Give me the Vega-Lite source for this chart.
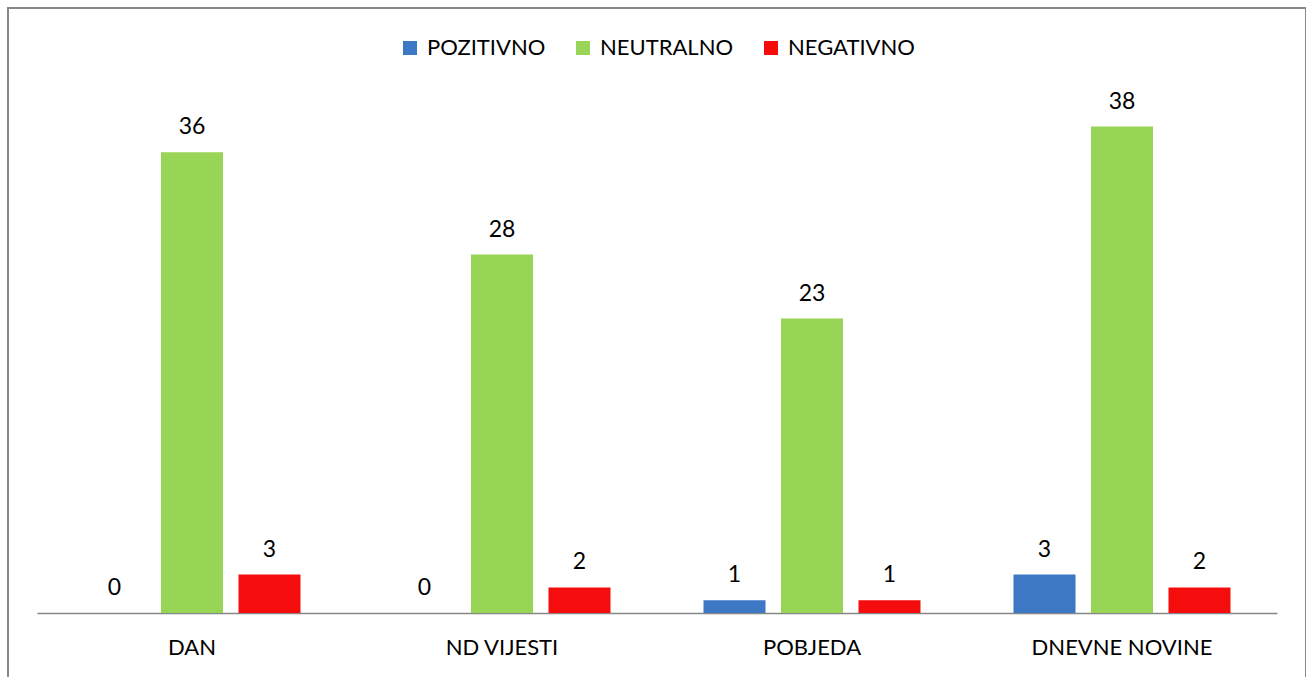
{
  "$schema": "https://vega.github.io/schema/vega-lite/v6.json",
  "width": 1298,
  "height": 700,
  "autosize": {"type": "none"},
  "padding": {"left": 8, "top": 8, "right": 0, "bottom": 0},
  "background": "white",
  "config": {
    "view": {"stroke": "#888888", "strokeWidth": 2},
    "font": "Lato"
  },
  "data": {
    "values": [
      {"paper": "DAN", "tone": "POZITIVNO", "count": 0},
      {"paper": "DAN", "tone": "NEUTRALNO", "count": 36},
      {"paper": "DAN", "tone": "NEGATIVNO", "count": 3},
      {"paper": "ND VIJESTI", "tone": "POZITIVNO", "count": 0},
      {"paper": "ND VIJESTI", "tone": "NEUTRALNO", "count": 28},
      {"paper": "ND VIJESTI", "tone": "NEGATIVNO", "count": 2},
      {"paper": "POBJEDA", "tone": "POZITIVNO", "count": 1},
      {"paper": "POBJEDA", "tone": "NEUTRALNO", "count": 23},
      {"paper": "POBJEDA", "tone": "NEGATIVNO", "count": 1},
      {"paper": "DNEVNE NOVINE", "tone": "POZITIVNO", "count": 3},
      {"paper": "DNEVNE NOVINE", "tone": "NEUTRALNO", "count": 38},
      {"paper": "DNEVNE NOVINE", "tone": "NEGATIVNO", "count": 2}
    ]
  },
  "encoding": {
    "x": {
      "field": "paper",
      "type": "nominal",
      "sort": ["DAN", "ND VIJESTI", "POBJEDA", "DNEVNE NOVINE"],
      "scale": {"range": [29, 1269], "paddingInner": 0.3, "paddingOuter": 0.15},
      "axis": {
        "title": null,
        "orient": "bottom",
        "offset": -95,
        "domainColor": "#868686",
        "domainWidth": 1.5,
        "ticks": false,
        "grid": false,
        "labelAngle": 0,
        "labelFont": "Lato",
        "labelFontSize": 22,
        "labelColor": "#000000",
        "labelPadding": 24,
        "labelLimit": 0
      }
    },
    "xOffset": {
      "field": "tone",
      "sort": ["POZITIVNO", "NEUTRALNO", "NEGATIVNO"],
      "scale": {"paddingInner": 0.2, "paddingOuter": 0}
    },
    "y": {
      "field": "count",
      "type": "quantitative",
      "scale": {"domain": [0, 40], "range": [605, 93]},
      "axis": null
    }
  },
  "layer": [
    {
      "mark": {"type": "bar"},
      "encoding": {
        "color": {
          "field": "tone",
          "type": "nominal",
          "sort": ["POZITIVNO", "NEUTRALNO", "NEGATIVNO"],
          "scale": {
            "domain": ["POZITIVNO", "NEUTRALNO", "NEGATIVNO"],
            "range": ["#3C78C4", "#98D456", "#F50D0D"]
          },
          "legend": {
            "orient": "none",
            "legendX": 391,
            "legendY": 29,
            "direction": "horizontal",
            "title": null,
            "padding": 0,
            "symbolType": "square",
            "symbolSize": 196,
            "symbolStrokeWidth": 0,
            "labelFont": "Lato",
            "labelFontSize": 22,
            "labelColor": "#000000",
            "labelOffset": 6,
            "labelLimit": 0,
            "columnPadding": 26
          }
        }
      }
    },
    {
      "mark": {"type": "text", "baseline": "alphabetic", "dy": -18, "fontSize": 23, "font": "Lato", "color": "#000000"},
      "encoding": {"text": {"field": "count", "type": "quantitative"}}
    }
  ]
}
